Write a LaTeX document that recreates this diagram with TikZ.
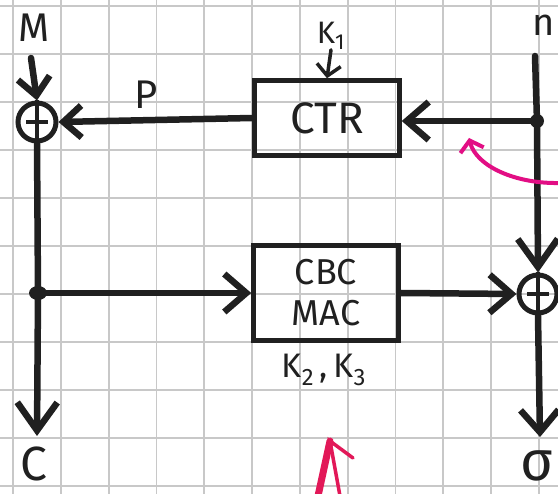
\documentclass[tikz,border=0pt]{standalone}
\usepackage{fontspec}
\setmainfont{Fira Sans}
\usetikzlibrary{arrows.meta}
\definecolor{ink}{RGB}{32,32,32}
\definecolor{gridc}{RGB}{200,200,200}
\definecolor{magtop}{RGB}{226,14,132}
\definecolor{magbot}{RGB}{226,24,88}
\tikzset{
  gridline/.style={gridc,line width=1.8pt},
  wire/.style={ink,line width=6.5pt,line cap=round},
  thinwire/.style={ink,line width=3.5pt,line cap=round},
  tipbig/.style={-{Straight Barb[length=22pt,width=38pt]}},
  tiplong/.style={-{Straight Barb[length=28pt,width=40pt]}},
  tipmid/.style={-{Straight Barb[length=18pt,width=32pt]}},
  tipsmall/.style={-{Straight Barb[length=11pt,width=24pt]}},
  blockbox/.style={draw=ink,line width=4.5pt,minimum width=145pt,text=ink,inner sep=0pt},
  xorc/.style={circle,draw=ink,line width=5pt,minimum size=38pt,inner sep=0pt},
  lbl/.style={text=ink,inner sep=0pt},
  dotj/.style={ink}
}
\begin{document}
\begin{tikzpicture}[x=1pt,y=-1pt]
\useasboundingbox (0,0) rectangle (558,494);
\clip (0,0) rectangle (558,494);
\fill[white] (0,0) rectangle (558,494);
% graph paper
\foreach \i in {0,...,11} \draw[gridline] ({13+47.8*\i},0) -- ({13+47.8*\i},494);
\foreach \j in {0,...,10} \draw[gridline] (0,{6+48*\j}) -- (558,{6+48*\j});

% nodes
\node[lbl,font=\fontsize{40}{44}\selectfont] (M) at (34,28) {M};
\node[xorc] (x1) at (37,122) {};
\draw[ink,line width=3.5pt] (x1.north) -- (x1.south);
\draw[ink,line width=3.5pt] ([xshift=-11pt]x1.center) -- ([xshift=11pt]x1.center);

\node[blockbox,minimum height=75pt,font=\fontsize{44}{48}\selectfont] (ctr) at (327,118) {CTR};
\node[lbl,font=\fontsize{31}{34}\selectfont] (k1) at (331,36) {K\textsubscript{1}};
\node[lbl,font=\fontsize{40}{44}\selectfont] (P) at (146,95) {P};

\node[lbl,font=\fontsize{38}{42}\selectfont] (n) at (544,25) {n};
\coordinate (ntop) at (535,56);
\coordinate (jr) at (537,121);

\node[blockbox,minimum height=95pt,align=center,font=\fontsize{36}{41}\selectfont] (cbc) at (326,293) {CBC\\MAC};
\node[lbl,font=\fontsize{34}{36}\selectfont] (k23) at (324,370) {K\textsubscript{2}\,,\,K\textsubscript{3}};

\coordinate (jl) at (38,293);
\node[xorc] (x2) at (538,294) {};
\draw[ink,line width=3.5pt] (x2.north) -- (x2.south);
\draw[ink,line width=3.5pt] ([xshift=-11pt]x2.center) -- ([xshift=11pt]x2.center);

\coordinate (mtop) at (31,58);
\coordinate (cend) at (37,436);
\coordinate (send) at (540,437);
\node[lbl,font=\fontsize{48}{52}\selectfont] (C) at (34,464) {C};
\node[lbl,font=\fontsize{56}{60}\selectfont] (sig) at (537,466) {σ};

% connectors
\draw[wire,tipmid] (mtop) -- (x1.north);
\draw[wire,tipmid] (ctr.west) -- (x1.east);
\draw[thinwire,tipsmall] (k1.south) -- (ctr.north);
\draw[wire] (ntop) -- (jr);
\draw[wire,tipbig] (jr) -- (jr -| ctr.east);
\draw[wire,tiplong] (jr) -- (x2.north);
\draw[wire] (x1.south) -- (jl);
\draw[wire,tiplong] (jl) -- (cend);
\draw[wire,tipbig] (jl) -- (cbc.west);
\draw[wire,tipbig] (cbc.east) -- (x2.west);
\draw[wire,tipbig] (x2.south) -- (send);
\fill[dotj] (jl) ellipse (9pt and 7pt);
\fill[dotj] (jr) circle (7pt);

% magenta marks
\coordinate (mt0) at (560,183);
\coordinate (mt1) at (469,138);
\draw[magtop,line width=4pt,line cap=round,-{Straight Barb[length=10pt,width=24pt]}] (mt0) .. controls (515,184) and (476,166) .. (mt1);
\coordinate (mb0) at (318,496);
\coordinate (mb1) at (330,441);
\coordinate (mb2) at (340,496);
\coordinate (mb3) at (353,458);
\draw[magbot,line width=7pt,line cap=round] (mb0) -- (mb1);
\draw[magbot,line width=3.5pt,line cap=round] (mb2) -- (mb1) -- (mb3);
\end{tikzpicture}
\end{document}
